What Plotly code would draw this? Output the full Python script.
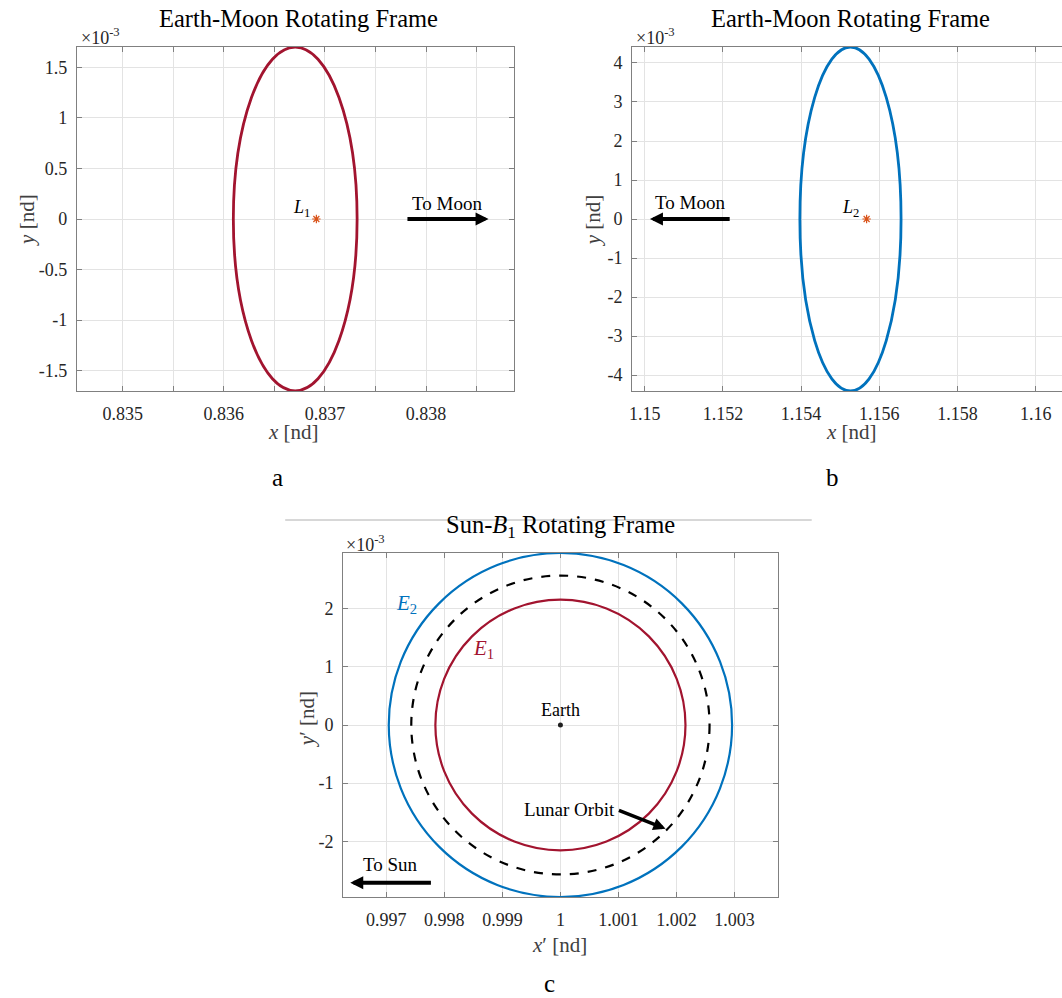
import plotly.graph_objects as go

W, H = 1062, 998

# ---------------- data ----------------
# Panel a: Earth-Moon L1 Lyapunov orbit (y in units of 1e-3 nd)
orbit_a_center = [0.836706, 0.0]
orbit_a_semi_axes = [0.000612, 1.698]
L1_point = [0.836915, 0.0]

# Panel b: Earth-Moon L2 Lyapunov orbit (y in units of 1e-3 nd)
orbit_b_center = [1.155263, 0.0]
orbit_b_semi_axes = [0.001294, 4.41]
L2_point = [1.155676, 0.0]

# Panel c: Sun-B1 rotating frame, circles about Earth (radii in 1e-3 nd)
earth_point = [1.0, 0.0]
ring_names = ["E1", "Lunar Orbit", "E2"]
ring_radii = [2.155, 2.57, 2.958]

# tick values / labels
a_xtickvals = [0.835, 0.836, 0.837, 0.838]
a_xticktext = ["0.835", "0.836", "0.837", "0.838"]
a_xminorvals = [0.8355, 0.8365, 0.8375, 0.8385]
a_ytickvals = [-1.5, -1, -0.5, 0, 0.5, 1, 1.5]
a_yticktext = ["-1.5", "-1", "-0.5", "0", "0.5", "1", "1.5"]
b_xtickvals = [1.15, 1.152, 1.154, 1.156, 1.158, 1.16]
b_xticktext = ["1.15", "1.152", "1.154", "1.156", "1.158", "1.16"]
b_ytickvals = [-4, -3, -2, -1, 0, 1, 2, 3, 4]
b_yticktext = ["-4", "-3", "-2", "-1", "0", "1", "2", "3", "4"]
c_xtickvals = [0.997, 0.998, 0.999, 1.0, 1.001, 1.002, 1.003]
c_xticktext = ["0.997", "0.998", "0.999", "1", "1.001", "1.002", "1.003"]
c_ytickvals = [-2, -1, 0, 1, 2]
c_yticktext = ["-2", "-1", "0", "1", "2"]

# ---------------- styles ----------------
RED = "#A2142F"
BLUE = "#0072BD"
ORANGE = "#D95319"
SERIF = "Liberation Serif, Times New Roman, serif"
ring_colors = {"E1": RED, "Lunar Orbit": "#000000", "E2": BLUE}
ring_dash = {"E1": "solid", "Lunar Orbit": "dash", "E2": "solid"}
LINE_GREY = "#808080"
GRID_GREY = "#e3e3e3"


def dx(px):
    return px / W


def dy(py):
    return 1 - py / H


def axis(domain, rng, vals, text, mirror="ticks", standoff=6, minorvals=None):
    d = dict(
        domain=domain, range=rng, tickmode="array", tickvals=vals, ticktext=text,
        showline=True, linecolor=LINE_GREY, linewidth=1, mirror=mirror,
        ticks="inside", ticklen=5, tickcolor=LINE_GREY, tickwidth=1,
        showgrid=True, gridcolor=GRID_GREY, gridwidth=1, zeroline=False,
        tickfont=dict(family=SERIF, size=18, color="#262626"),
        ticklabelstandoff=standoff, fixedrange=True,
    )
    if minorvals is not None:
        d["minor"] = dict(tickmode="array", tickvals=minorvals, ticks="inside",
                          ticklen=5, tickcolor=LINE_GREY, tickwidth=1,
                          showgrid=True, gridcolor=GRID_GREY, gridwidth=1)
    return d


fig = go.Figure()

# markers
fig.add_trace(go.Scatter(x=[L1_point[0]], y=[L1_point[1]], mode="markers",
                         marker=dict(symbol="asterisk-open", size=7, color=ORANGE,
                                     line=dict(color=ORANGE, width=1.2)),
                         xaxis="x", yaxis="y", showlegend=False))
fig.add_trace(go.Scatter(x=[L2_point[0]], y=[L2_point[1]], mode="markers",
                         marker=dict(symbol="asterisk-open", size=7, color=ORANGE,
                                     line=dict(color=ORANGE, width=1.2)),
                         xaxis="x2", yaxis="y2", showlegend=False))
fig.add_trace(go.Scatter(x=[earth_point[0]], y=[earth_point[1]], mode="markers",
                         marker=dict(symbol="circle", size=5, color="#202020"),
                         xaxis="x3", yaxis="y3", showlegend=False))

shapes = []
# orbit ellipses (a, b)
for (cx, cy), (hw, hh), xr, yr, col in [
    (orbit_a_center, orbit_a_semi_axes, "x", "y", RED),
    (orbit_b_center, orbit_b_semi_axes, "x2", "y2", BLUE),
]:
    shapes.append(dict(type="circle", xref=xr, yref=yr,
                       x0=cx - hw, x1=cx + hw, y0=cy - hh, y1=cy + hh,
                       line=dict(color=col, width=2.8)))
# rings (c)
for name, r in zip(ring_names, ring_radii):
    shapes.append(dict(type="circle", xref="x3", yref="y3",
                       x0=earth_point[0] - r * 1e-3, x1=earth_point[0] + r * 1e-3,
                       y0=earth_point[1] - r, y1=earth_point[1] + r,
                       line=dict(color=ring_colors[name], width=2.2,
                                 dash=ring_dash[name])))
# separator line above panel c
shapes.append(dict(type="line", xref="paper", yref="paper",
                   x0=dx(283), x1=dx(811), y0=dy(520), y1=dy(520),
                   line=dict(color="#b0b0b0", width=1)))

ann = []


def P(px, py, text, size, color="#000000", **kw):
    d = dict(xref="paper", yref="paper", x=dx(px), y=dy(py), text=text,
             showarrow=False, xanchor="center", yanchor="middle",
             font=dict(family=SERIF, size=size, color=color))
    d.update(kw)
    return d


def D(xr, yr, x, y, text, size, color="#000000", **kw):
    d = dict(xref=xr, yref=yr, x=x, y=y, text=text, showarrow=False,
             xanchor="center", yanchor="middle",
             font=dict(family=SERIF, size=size, color=color))
    d.update(kw)
    return d


def ARROW(xr, yr, tail, head, width=4, size=0.65):
    return dict(xref=xr, yref=yr, axref=xr, ayref=yr, x=head[0], y=head[1],
                ax=tail[0], ay=tail[1], text="", showarrow=True, arrowhead=2,
                arrowwidth=width, arrowsize=size, arrowcolor="#000000",
                standoff=0, startstandoff=0)


# titles
ann.append(P(296, 19, "Earth-Moon Rotating Frame", 24.5))
ann.append(P(850, 19, "Earth-Moon Rotating Frame", 24.5))
ann.append(P(559, 526, "Sun-<i>B</i><sub>1</sub> Rotating Frame", 24.5))
# exponent labels
for px, py in [(76, 37), (633, 37), (342, 543)]:
    ann.append(P(px, py, "×10<sup>-3</sup>", 18, "#262626", xanchor="left"))
# axis titles
ann.append(P(291, 432, "<i>x</i> [nd]", 21, "#404040"))
ann.append(P(851, 432, "<i>x</i> [nd]", 21, "#404040"))
ann.append(P(558, 945, "<i>x</i>′ [nd]", 21, "#404040"))
ann.append(P(24, 220, "<i>y</i> [nd]", 21, "#404040", textangle=-90))
ann.append(P(592, 220, "<i>y</i> [nd]", 21, "#404040", textangle=-90))
ann.append(P(305, 719, "<i>y</i>′ [nd]", 21, "#404040", textangle=-90))
# panel letters
ann.append(P(275, 478, "a", 25))
ann.append(P(832, 478, "b", 25))
ann.append(P(548, 983, "c", 25))

# panel a labels
ann.append(D("x", "y", 0.836767, 0.10, "<i>L</i><sub>1</sub>", 18))
ann.append(D("x", "y", 0.838211, 0.15, "To Moon", 19))
ann.append(ARROW("x", "y", (0.837801, 0.0), (0.838618, 0.0)))
# panel b labels
ann.append(D("x2", "y2", 1.155268, 0.27, "<i>L</i><sub>2</sub>", 18))
ann.append(D("x2", "y2", 1.151156, 0.42, "To Moon", 19))
ann.append(ARROW("x2", "y2", (1.152212, 0.0), (1.150135, 0.0)))
# panel c labels
ann.append(D("x3", "y3", 0.997346, 2.086, "<i>E</i><sub>2</sub>", 21, BLUE))
ann.append(D("x3", "y3", 0.998670, 1.305, "<i>E</i><sub>1</sub>", 21, RED))
ann.append(D("x3", "y3", 1.0, 0.25, "Earth", 18))
ann.append(D("x3", "y3", 1.000151, -1.457, "Lunar Orbit", 19))
ann.append(ARROW("x3", "y3", (1.000982, -1.457), (1.001812, -1.783), width=3.5, size=0.7))
ann.append(D("x3", "y3", 0.997074, -2.394, "To Sun", 19))
ann.append(ARROW("x3", "y3", (0.997794, -2.712), (0.996378, -2.712)))

fig.update_layout(
    width=W, height=H, margin=dict(l=0, r=0, t=0, b=0),
    font=dict(family=SERIF, size=18, color="#262626"),
    paper_bgcolor="white", plot_bgcolor="white", showlegend=False,
    xaxis=axis([dx(74), dx(512)], [0.834546, 0.838865], a_xtickvals, a_xticktext,
               minorvals=a_xminorvals),
    yaxis=axis([dy(391), dy(47)], [-1.70, 1.70], a_ytickvals, a_yticktext, standoff=5),
    xaxis2=axis([dx(631), 1.0], [1.149681, 1.160673], b_xtickvals, b_xticktext),
    yaxis2=axis([dy(391), dy(47)], [-4.41, 4.41], b_ytickvals, b_yticktext,
                mirror=False, standoff=5),
    xaxis3=axis([dx(341), dx(777)], [0.996254, 1.003746], c_xtickvals, c_xticktext),
    yaxis3=axis([dy(897), dy(553)], [-2.958, 2.958], c_ytickvals, c_yticktext, standoff=5),
    shapes=shapes, annotations=ann,
)
fig.layout.xaxis.anchor = "y"
fig.layout.yaxis.anchor = "x"
fig.layout.xaxis2.anchor = "y2"
fig.layout.yaxis2.anchor = "x2"
fig.layout.xaxis3.anchor = "y3"
fig.layout.yaxis3.anchor = "x3"

fig.write_html("out.html")
